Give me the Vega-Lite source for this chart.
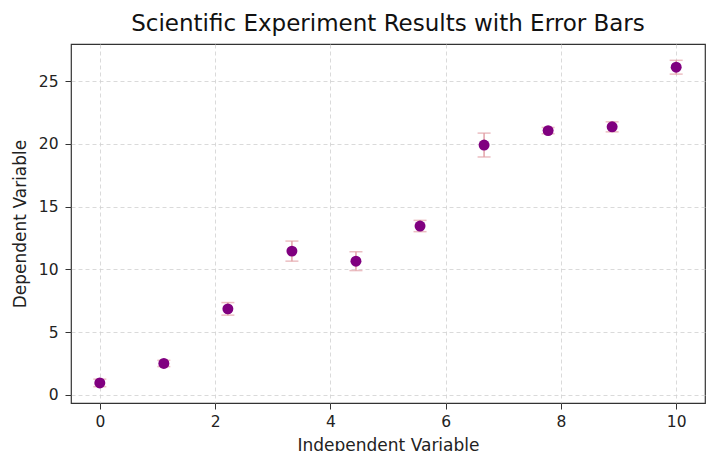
{
  "$schema": "https://vega.github.io/schema/vega-lite/v6.json",
  "autosize": {"type": "none"},
  "width": 634,
  "height": 359,
  "padding": {"left": 71, "top": 44, "right": 15, "bottom": 48},
  "background": "white",
  "title": {
    "text": "Scientific Experiment Results with Error Bars",
    "fontSize": 23,
    "fontWeight": "normal",
    "font": "DejaVu Sans",
    "color": "#111111",
    "offset": 8
  },
  "data": {
    "values": [
      {"x": 0, "y": 0.95, "err": 0.3},
      {"x": 1.111, "y": 2.5, "err": 0.25},
      {"x": 2.222, "y": 6.85, "err": 0.5},
      {"x": 3.333, "y": 11.45, "err": 0.8},
      {"x": 4.444, "y": 10.65, "err": 0.75},
      {"x": 5.556, "y": 13.45, "err": 0.45},
      {"x": 6.667, "y": 19.9, "err": 0.95},
      {"x": 7.778, "y": 21.05, "err": 0.25},
      {"x": 8.889, "y": 21.35, "err": 0.4},
      {"x": 10, "y": 26.1, "err": 0.55}
    ]
  },
  "encoding": {
    "x": {
      "field": "x",
      "type": "quantitative",
      "title": "Independent Variable",
      "scale": {"domain": [-0.5, 10.5], "nice": false, "zero": false},
      "axis": {"values": [0, 2, 4, 6, 8, 10]}
    }
  },
  "layer": [
    {
      "mark": {
        "type": "errorbar",
        "color": "#e3a3a8",
        "thickness": 1.5,
        "ticks": {"size": 13, "color": "#e3a3a8", "thickness": 1.5}
      },
      "encoding": {
        "y": {
          "field": "y",
          "type": "quantitative",
          "title": "Dependent Variable",
          "scale": {"domain": [-0.65, 27.95], "nice": false, "zero": false},
          "axis": {"values": [0, 5, 10, 15, 20, 25]}
        },
        "yError": {"field": "err"}
      }
    },
    {
      "mark": {"type": "circle", "color": "#800080", "opacity": 1, "size": 120},
      "encoding": {
        "y": {"field": "y", "type": "quantitative"}
      }
    }
  ],
  "config": {
    "font": "DejaVu Sans",
    "view": {"stroke": "#333333", "strokeWidth": 1.2},
    "axis": {
      "grid": true,
      "gridDash": [4, 3],
      "gridColor": "#d0d0d0",
      "gridWidth": 0.8,
      "domain": false,
      "tickColor": "#333333",
      "tickSize": 6,
      "labelFontSize": 15.5,
      "labelColor": "#222222",
      "titleFontSize": 17,
      "titleFontWeight": "normal",
      "titleColor": "#222222"
    },
    "axisX": {"labelPadding": 5, "titlePadding": 8},
    "axisY": {"labelPadding": 7, "titlePadding": 9}
  }
}
